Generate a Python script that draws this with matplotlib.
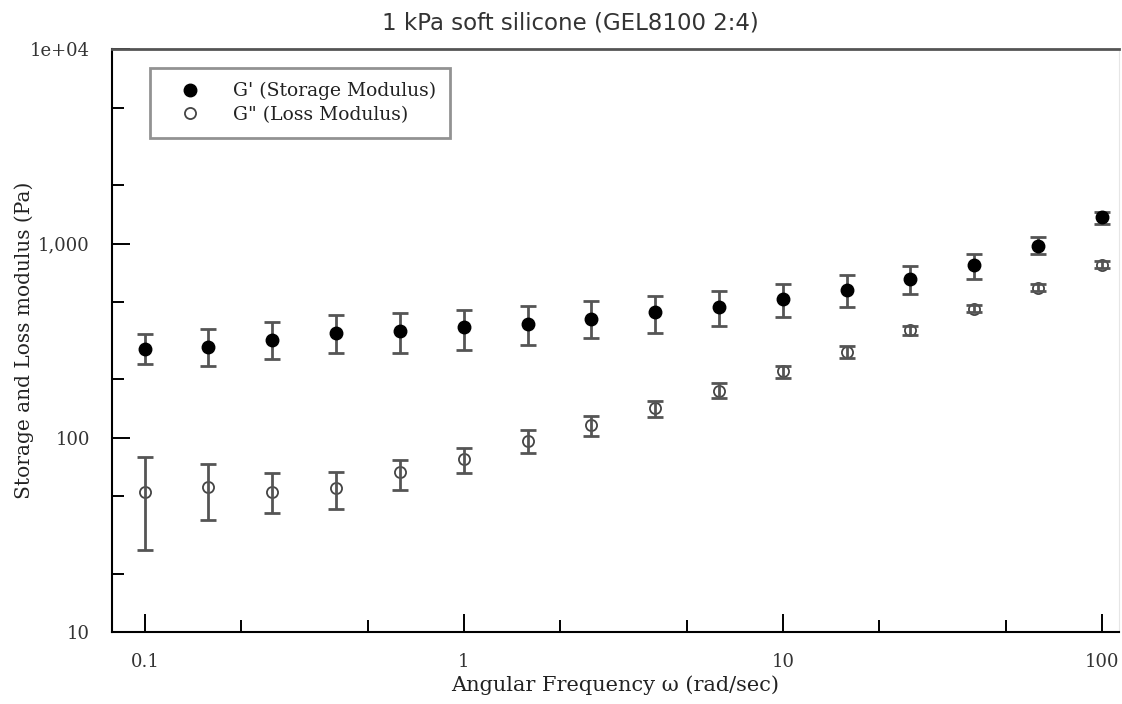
import matplotlib
matplotlib.use("Agg")
import matplotlib.pyplot as plt
import numpy as np

# angular frequency (rad/sec)
omega = [0.1, 0.158, 0.251, 0.398, 0.631, 1.0, 1.585, 2.512,
         3.98, 6.31, 10.0, 15.85, 25.1, 39.8, 63.1, 100.0]

# G' storage modulus (Pa) with error bar limits
g_store = [288, 294, 318, 347, 355, 370, 385, 408,
           445, 472, 516, 580, 658, 780, 977, 1372]
g_store_lo = [239, 235, 254, 272, 272, 283, 300, 326,
              347, 376, 417, 472, 547, 658, 885, 1259]
g_store_hi = [342, 363, 393, 428, 437, 454, 476, 505,
              536, 571, 620, 688, 765, 885, 1083, 1456]

# G'' loss modulus (Pa) with error bar limits
g_loss = [52.7, 56.0, 52.7, 54.9, 66.4, 78.3, 96.5, 116,
          143, 175, 220, 277, 358, 463, 594, 780]
g_loss_lo = [26.6, 38.0, 41.1, 42.8, 53.8, 66.1, 83.7, 102,
             128, 160, 204, 259, 339, 442, 569, 750]
g_loss_hi = [79.8, 73.8, 65.6, 66.8, 76.8, 89.2, 109.6, 129,
             155, 192, 235, 296, 376, 484, 618, 811]

serif = ["DejaVu Serif"]

fig = plt.figure(figsize=(11.22, 7.04), dpi=100)
ax = fig.add_axes([0.100, 0.102, 0.897, 0.828])

gs = np.array(g_store)
gl = np.array(g_loss)
err_s = [gs - np.array(g_store_lo), np.array(g_store_hi) - gs]
err_l = [gl - np.array(g_loss_lo), np.array(g_loss_hi) - gl]

ax.errorbar(omega, g_store, yerr=err_s, fmt='none', ecolor='#555555',
            elinewidth=2.0, capsize=6, capthick=2.0, zorder=2)
ax.plot(omega, g_store, 'o', color='black', markersize=9, zorder=3,
        label="G' (Storage Modulus)")

ax.plot(omega, g_loss, 'o', markerfacecolor='white', markeredgecolor='#444444',
        markeredgewidth=1.3, markersize=8, zorder=2,
        label='G" (Loss Modulus)')
ax.errorbar(omega, g_loss, yerr=err_l, fmt='none', ecolor='#555555',
            elinewidth=2.0, capsize=6, capthick=2.0, zorder=3)

ax.set_xscale('log')
ax.set_yscale('log')
ax.set_xlim(0.079, 113)
ax.set_ylim(10, 10000)

ax.set_xticks([0.1, 1, 10, 100])
ax.set_xticklabels(['0.1', '1', '10', '100'])
ax.set_xticks([0.2, 0.5, 2, 5, 20, 50], minor=True)
ax.set_xticklabels([], minor=True)
ax.set_yticks([10, 100, 1000, 10000])
ax.set_yticklabels(['10', '100', '1,000', '1e+04'])
ax.set_yticks([20, 50, 200, 500, 2000, 5000], minor=True)
ax.set_yticklabels([], minor=True)

ax.tick_params(which='major', direction='in', length=13, width=1.4,
               labelsize=13, colors='black', labelcolor='#333333')
ax.tick_params(which='minor', direction='in', length=8.5, width=1.4)
ax.tick_params(top=False, right=False, which='both')
for lab in ax.get_xticklabels() + ax.get_yticklabels():
    lab.set_family(serif)
ax.tick_params(axis='x', pad=15)
ax.tick_params(axis='y', pad=16)

ax.spines['left'].set_linewidth(1.5)
ax.spines['bottom'].set_linewidth(1.5)
ax.spines['top'].set_linewidth(2.0)
ax.spines['top'].set_color('#555555')
ax.spines['right'].set_linewidth(0.8)
ax.spines['right'].set_color('#e6e6e6')

ax.set_xlabel('Angular Frequency ω (rad/sec)', family=serif, fontsize=15,
              color='#222222', labelpad=3)
ax.set_ylabel('Storage and Loss modulus (Pa)', family=serif, fontsize=14.5,
              color='#222222', labelpad=-3)
fig.text(0.508, 0.968, '1 kPa soft silicone (GEL8100 2:4)',
         family='DejaVu Sans', fontsize=16.5, color='#333333',
         ha='center', va='center')

leg = ax.legend(loc='upper left', bbox_to_anchor=(0.0376, 0.968),
                prop={'family': serif, 'size': 13.5}, frameon=True,
                fancybox=False, edgecolor='#777777', borderpad=0.75,
                handletextpad=0.9, labelspacing=0.3, borderaxespad=0,
                handlelength=2.77)
leg.get_frame().set_linewidth(2.0)
for t in leg.get_texts():
    t.set_color('#222222')

fig.savefig('out.png', dpi=100)
